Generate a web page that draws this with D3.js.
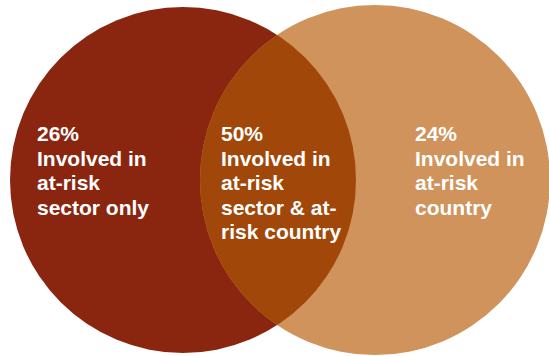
<!DOCTYPE html>
<html>
<head>
<meta charset="utf-8">
<script src="https://cdn.jsdelivr.net/npm/d3@7"></script>
<style>
  html, body { margin: 0; padding: 0; background: #ffffff; }
  svg { display: block; }
  text { font-family: "Liberation Sans", Arial, Helvetica, sans-serif; font-weight: bold; fill: #ffffff; }
</style>
</head>
<body>
<div id="chart"></div>
<script>
// Two overlapping sets and the share of firms in each region
const sets = ["At-risk sector", "At-risk country"];
const regions = ["sectorOnly", "both", "countryOnly"];
const shares = [26, 50, 24];
const regionLines = [
  ["Involved in", "at-risk", "sector only"],
  ["Involved in", "at-risk", "sector & at-", "risk country"],
  ["Involved in", "at-risk", "country"]
];
const setColors = ["#8a2610", "#cf935b"];
const overlapColor = "#a1470a";

const width = 549, height = 356;

const svg = d3.select("#chart").append("svg")
  .attr("width", width)
  .attr("height", height);

// Layout: circle centres placed along a horizontal scale
const x = d3.scaleLinear().domain([0, 1]).range([183, 375]);
const cy = 180;
const radius = d3.scaleOrdinal().domain(sets).range([173, 175]);

const circles = sets.map((s, i) => ({ name: s, cx: x(i), cy: cy, r: radius(s), color: setColors[i] }));

const defs = svg.append("defs");
defs.append("clipPath").attr("id", "clip-sector")
  .append("circle")
  .attr("cx", circles[0].cx).attr("cy", circles[0].cy).attr("r", circles[0].r);

svg.selectAll("circle.set")
  .data(circles)
  .join("circle")
  .attr("class", "set")
  .attr("cx", d => d.cx)
  .attr("cy", d => d.cy)
  .attr("r", d => d.r)
  .attr("fill", d => d.color);

// Intersection of the two sets
svg.append("circle")
  .attr("clip-path", "url(#clip-sector)")
  .attr("cx", circles[1].cx)
  .attr("cy", circles[1].cy)
  .attr("r", circles[1].r)
  .attr("fill", overlapColor);

// Region labels: percentage on the first line, description beneath
const labelX = d3.scaleOrdinal().domain(regions).range([37, 221, 415]);
const firstBaseline = 141;
const lineHeight = 24.5;

const labels = svg.selectAll("text.region")
  .data(regions.map((r, i) => ({ key: r, lines: [shares[i] + "%"].concat(regionLines[i]) })))
  .join("text")
  .attr("class", "region")
  .attr("x", d => labelX(d.key))
  .attr("y", firstBaseline)
  .style("font-size", "21px");

labels.selectAll("tspan")
  .data(d => d.lines.map(l => ({ text: l, x: labelX(d.key) })))
  .join("tspan")
  .attr("x", d => d.x)
  .attr("dy", (d, i) => i === 0 ? 0 : lineHeight)
  .text(d => d.text);
</script>
</body>
</html>
